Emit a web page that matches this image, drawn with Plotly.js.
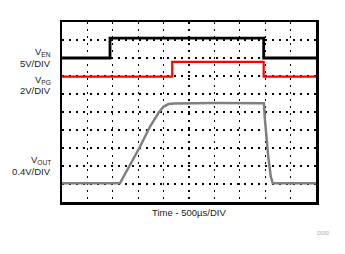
<!DOCTYPE html>
<html>
<head>
<meta charset="utf-8">
<script src="https://cdn.plot.ly/plotly-3.0.1.min.js"></script>
<style>html,body{margin:0;padding:0;background:#fff;}#chart{width:345px;height:254px;}</style>
</head>
<body>
<div id="chart"></div>
<script>
// Time in divisions (500 µs/DIV), vertical position in screen divisions
var enTime = [0, 1.89, 1.89, 7.94, 7.94, 10];
var enLevel = [8.0, 8.0, 9.1, 9.1, 8.0, 8.0];

var pgTime = [0, 4.34, 4.34, 7.94, 7.94, 10];
var pgLevel = [6.97, 6.97, 7.78, 7.78, 6.97, 6.97];

var outTime = [0, 2.28, 3.07, 3.46, 3.79, 3.99, 4.19, 4.4, 6.0, 7.9, 7.95, 7.99, 8.06, 8.12, 8.22, 8.30, 10];
var outLevel = [1.04, 1.04, 3.07, 4.18, 4.93, 5.29, 5.44, 5.47, 5.5, 5.52, 5.48, 4.56, 3.44, 2.52, 1.41, 1.04, 1.04];

var labelFont = {family: 'Liberation Sans, Arial, sans-serif', size: 9.5, color: '#222'};

var traces = [
  {x: outTime, y: outLevel, mode: 'lines', line: {color: '#808080', width: 2.5}, hoverinfo: 'skip'},
  {x: pgTime, y: pgLevel, mode: 'lines', line: {color: '#ff0000', width: 2.2}, hoverinfo: 'skip'},
  {x: enTime, y: enLevel, mode: 'lines', line: {color: '#000000', width: 2.8}, hoverinfo: 'skip'}
];

var axisCommon = {
  range: [0, 10], dtick: 1, tick0: 0,
  showgrid: true, gridcolor: '#000', gridwidth: 1.2, griddash: '2px,5px',
  zeroline: false, showticklabels: false, ticks: '',
  showline: true, mirror: true, linecolor: '#000', linewidth: 2.5,
  fixedrange: true
};

var layout = {
  width: 345, height: 254,
  margin: {l: 62, r: 29, t: 22, b: 52},
  paper_bgcolor: '#fff', plot_bgcolor: '#fff',
  showlegend: false,
  xaxis: Object.assign({}, axisCommon),
  yaxis: Object.assign({}, axisCommon),
  annotations: [
    {xref: 'paper', yref: 'y', x: -0.035, y: 8.31, xanchor: 'right', yanchor: 'middle', text: 'V<sub>EN</sub>', showarrow: false, font: labelFont},
    {xref: 'paper', yref: 'y', x: -0.035, y: 7.67, xanchor: 'right', yanchor: 'middle', text: '5V/DIV', showarrow: false, font: labelFont},
    {xref: 'paper', yref: 'y', x: -0.035, y: 6.78, xanchor: 'right', yanchor: 'middle', text: 'V<sub>PG</sub>', showarrow: false, font: labelFont},
    {xref: 'paper', yref: 'y', x: -0.035, y: 6.17, xanchor: 'right', yanchor: 'middle', text: '2V/DIV', showarrow: false, font: labelFont},
    {xref: 'paper', yref: 'y', x: -0.035, y: 2.33, xanchor: 'right', yanchor: 'middle', text: 'V<sub>OUT</sub>', showarrow: false, font: labelFont},
    {xref: 'paper', yref: 'y', x: -0.035, y: 1.67, xanchor: 'right', yanchor: 'middle', text: '0.4V/DIV', showarrow: false, font: labelFont},
    {xref: 'paper', yref: 'paper', x: 0.5, y: -0.061, xanchor: 'center', yanchor: 'middle', text: 'Time - 500µs/DIV', showarrow: false, font: labelFont},
    {xref: 'paper', yref: 'paper', x: 1.028, y: -0.172, xanchor: 'center', yanchor: 'middle', text: 'D050', showarrow: false, font: {family: 'Liberation Sans, Arial, sans-serif', size: 5, color: '#aaa'}}
  ]
};

Plotly.newPlot('chart', traces, layout, {displayModeBar: false, staticPlot: true});
</script>
</body>
</html>
